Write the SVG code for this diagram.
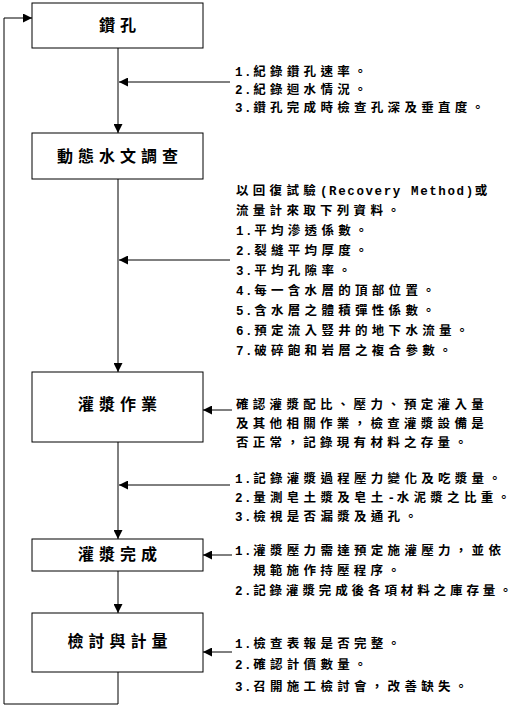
<svg xmlns="http://www.w3.org/2000/svg" width="518" height="707" viewBox="0 0 518 707">
<style>
.box{fill:#fff;stroke:#000;stroke-width:1}
.lbl{font-family:"Noto Sans CJK TC","Liberation Sans",sans-serif;font-size:16px;font-weight:700;letter-spacing:5px;text-anchor:middle;fill:#000}
.t{font-family:"Noto Sans CJK TC","Liberation Sans",sans-serif;font-size:12.5px;font-weight:700;letter-spacing:4.3px;fill:#000}
.m{font-family:"Liberation Mono",monospace;letter-spacing:1.6px}
.c{fill:none;stroke:#000;stroke-width:1}
</style>
<defs>
<marker id="ah" markerUnits="userSpaceOnUse" markerWidth="9" markerHeight="9" refX="9" refY="4.5" orient="auto">
<path d="M0,0 L9,4.5 L0,9 z" fill="#000"/>
</marker>
</defs>
<g id="connectors">
<path class="c" d="M118,48 V133" marker-end="url(#ah)"/>
<path class="c" d="M230,82 H119" marker-end="url(#ah)"/>
<path class="c" d="M118,179 V372" marker-end="url(#ah)"/>
<path class="c" d="M230,260 H119" marker-end="url(#ah)"/>
<path class="c" d="M232,410 H203" marker-end="url(#ah)"/>
<path class="c" d="M118,442 V539" marker-end="url(#ah)"/>
<path class="c" d="M230,485 H119" marker-end="url(#ah)"/>
<path class="c" d="M232,555 H203" marker-end="url(#ah)"/>
<path class="c" d="M118,571 V613" marker-end="url(#ah)"/>
<path class="c" d="M232,652 H203" marker-end="url(#ah)"/>
<path class="c" d="M118,672 V704 H4 V18 H32" marker-end="url(#ah)"/>
</g>
<g id="n1"><rect class="box" x="32" y="3" width="171" height="45"/><text class="lbl" x="120" y="31">鑽孔</text></g>
<g id="n2"><rect class="box" x="32" y="133" width="171" height="46"/><text class="lbl" x="120" y="162">動態水文調查</text></g>
<g id="n3"><rect class="box" x="32" y="372" width="171" height="70"/><text class="lbl" x="120" y="410">灌漿作業</text></g>
<g id="n4"><rect class="box" x="32" y="539" width="171" height="32"/><text class="lbl" x="120" y="560">灌漿完成</text></g>
<g id="n5"><rect class="box" x="32" y="613" width="171" height="59"/><text class="lbl" x="120" y="647">檢討與計量</text></g>
<g id="note1">
<text class="t" x="235" y="76"><tspan class="m">1.</tspan>紀錄鑽孔速率。</text>
<text class="t" x="235" y="94"><tspan class="m">2.</tspan>紀錄迴水情況。</text>
<text class="t" x="235" y="112"><tspan class="m">3.</tspan>鑽孔完成時檢查孔深及垂直度。</text>
</g>
<g id="note2">
<text class="t" x="236" y="195">以回復試驗<tspan class="m">(Recovery Method)</tspan>或</text>
<text class="t" x="236" y="215">流量計來取下列資料。</text>
<text class="t" x="236" y="235"><tspan class="m">1.</tspan>平均滲透係數。</text>
<text class="t" x="236" y="255"><tspan class="m">2.</tspan>裂縫平均厚度。</text>
<text class="t" x="236" y="275"><tspan class="m">3.</tspan>平均孔隙率。</text>
<text class="t" x="236" y="295"><tspan class="m">4.</tspan>每一含水層的頂部位置。</text>
<text class="t" x="236" y="315"><tspan class="m">5.</tspan>含水層之體積彈性係數。</text>
<text class="t" x="236" y="335"><tspan class="m">6.</tspan>預定流入豎井的地下水流量。</text>
<text class="t" x="236" y="355"><tspan class="m">7.</tspan>破碎飽和岩層之複合參數。</text>
</g>
<g id="note3">
<text class="t" x="236" y="409">確認灌漿配比、壓力、預定灌入量</text>
<text class="t" x="236" y="428">及其他相關作業，檢查灌漿設備是</text>
<text class="t" x="236" y="447">否正常，記錄現有材料之存量。</text>
</g>
<g id="note4">
<text class="t" x="235" y="483"><tspan class="m">1.</tspan>記錄灌漿過程壓力變化及吃漿量。</text>
<text class="t" x="235" y="502"><tspan class="m">2.</tspan>量測皂土漿及皂土<tspan class="m">-</tspan>水泥漿之比重。</text>
<text class="t" x="235" y="521"><tspan class="m">3.</tspan>檢視是否漏漿及通孔。</text>
</g>
<g id="note5">
<text class="t" x="235" y="555"><tspan class="m">1.</tspan>灌漿壓力需達預定施灌壓力，並依</text>
<text class="t" x="253" y="575">規範施作持壓程序。</text>
<text class="t" x="235" y="595" style="letter-spacing:3.9px"><tspan class="m">2.</tspan>記錄灌漿完成後各項材料之庫存量。</text>
</g>
<g id="note6">
<text class="t" x="235" y="648"><tspan class="m">1.</tspan>檢查表報是否完整。</text>
<text class="t" x="235" y="669"><tspan class="m">2.</tspan>確認計價數量。</text>
<text class="t" x="235" y="691"><tspan class="m">3.</tspan>召開施工檢討會，改善缺失。</text>
</g>
</svg>
